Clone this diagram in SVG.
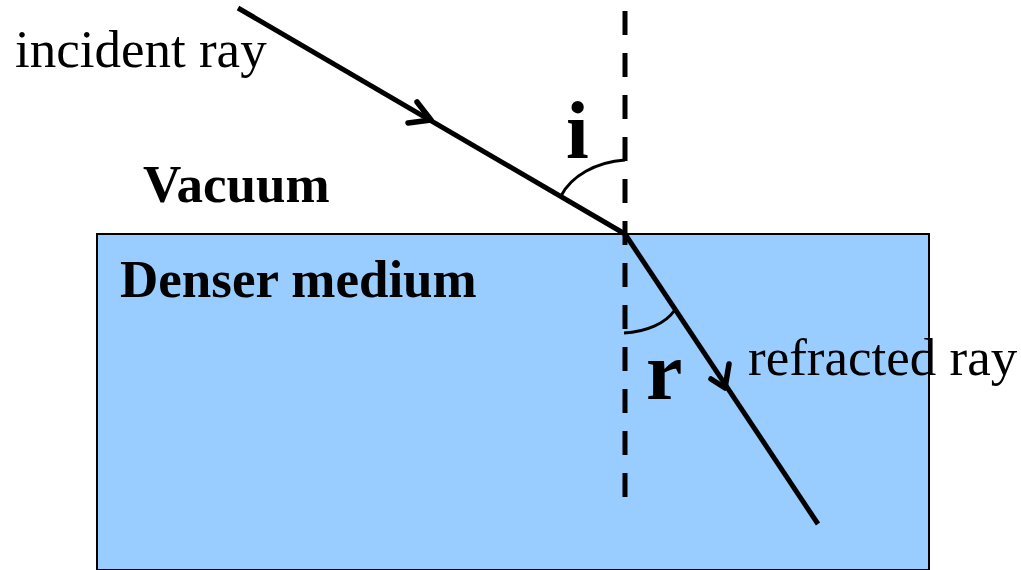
<svg xmlns="http://www.w3.org/2000/svg" width="1021" height="570" viewBox="0 0 1021 570">
<style>
.lbl{font-family:"Liberation Serif","Times New Roman",serif;fill:#000}
.b{font-weight:bold}
.ray{stroke:#000;stroke-width:5;fill:none;stroke-linecap:butt}
.head{stroke:#000;stroke-width:5.5;fill:none;stroke-linecap:round;stroke-linejoin:round}
.arc{stroke:#000;stroke-width:3;fill:none}
</style>
<rect width="1021" height="570" fill="#fff"/>
<g id="medium">
<rect x="97" y="234" width="832" height="336" fill="#99ccff" stroke="#000" stroke-width="2"/>
<text class="lbl b" x="120" y="297" font-size="53">Denser medium</text>
</g>
<g id="vacuum">
<text class="lbl b" x="143" y="202" font-size="53">Vacuum</text>
</g>
<g id="normal">
<line x1="625" y1="11" x2="625" y2="497" stroke="#000" stroke-width="5" stroke-dasharray="24 18"/>
</g>
<g id="connectors">
<g id="incident-ray">
<line class="ray" x1="238" y1="8" x2="625" y2="234"/>
<polyline class="head" points="417,102 431,120 408,123"/>
</g>
<g id="refracted-ray">
<line class="ray" x1="625" y1="234" x2="818" y2="524"/>
<polyline class="head" points="711,379 725,388 729,364"/>
</g>
<path class="arc" d="M625,160 C596,162 571,176 561,196"/>
<path class="arc" d="M624,333 C646,332 666,323 674,311"/>
</g>
<g id="labels">
<text class="lbl" x="15" y="67" font-size="53">incident ray</text>
<text class="lbl" x="748" y="375" font-size="53">refracted ray</text>
<text class="lbl b" x="566" y="158" font-size="82">i</text>
<text class="lbl b" x="646" y="399" font-size="82">r</text>
</g>
</svg>
